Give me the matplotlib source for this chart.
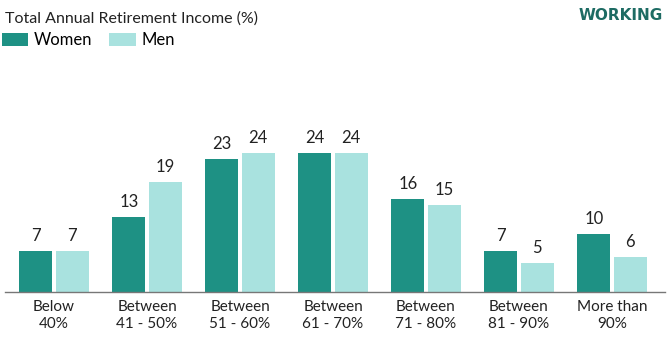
import numpy as np
import matplotlib.pyplot as plt

plt.rcParams['font.family'] = ['Lato', 'DejaVu Sans']

categories = ["Below\n40%", "Between\n41 - 50%", "Between\n51 - 60%", "Between\n61 - 70%",
              "Between\n71 - 80%", "Between\n81 - 90%", "More than\n90%"]
women = [7, 13, 23, 24, 16, 7, 10]
men = [7, 19, 24, 24, 15, 5, 6]

women_color = '#1e9184'
men_color = '#a9e2df'

fig = plt.figure(figsize=(6.68, 3.39), dpi=100)
ax = fig.add_axes([0.0075, 0.1386, 0.988, 0.513])

x = np.arange(len(categories))
width = 0.355
offset = 0.195

bars_w = ax.bar(x - offset, women, width, color=women_color, label="Women")
bars_m = ax.bar(x + offset, men, width, color=men_color, label="Men")

for bars in (bars_w, bars_m):
    for b in bars:
        ax.annotate(f"{int(b.get_height())}", (b.get_x() + b.get_width() / 2, b.get_height()),
                    xytext=(0, 5), textcoords='offset points', ha='center', va='bottom',
                    fontsize=12, color='#222222')

ax.set_xlim(-0.527, 6.57)
ax.set_ylim(0, 30)
ax.set_xticks(x)
ax.set_xticklabels(categories, fontsize=11, color='#222222', linespacing=1.2)
ax.tick_params(axis='x', length=0, pad=6)
ax.set_yticks([])
for side in ['top', 'right', 'left']:
    ax.spines[side].set_visible(False)
ax.spines['bottom'].set_color('#777777')
ax.spines['bottom'].set_linewidth(1.0)

fig.text(0.0075, 0.965, "Total Annual Retirement Income (%)", fontsize=11.5, color='#222222',
         ha='left', va='top')
fig.text(0.992, 0.975, "WORKING", fontsize=11, fontweight='bold', color='#1d6b63',
         ha='right', va='top', family=['DejaVu Sans'])

fig.legend(handles=[bars_w, bars_m], loc='upper left', bbox_to_anchor=(0.0, 0.91),
           ncol=2, frameon=False, fontsize=12, handlelength=1.6, handleheight=0.8,
           handletextpad=0.35, columnspacing=1.0, borderaxespad=0, borderpad=0.1)

fig.savefig("out.png", dpi=100)
